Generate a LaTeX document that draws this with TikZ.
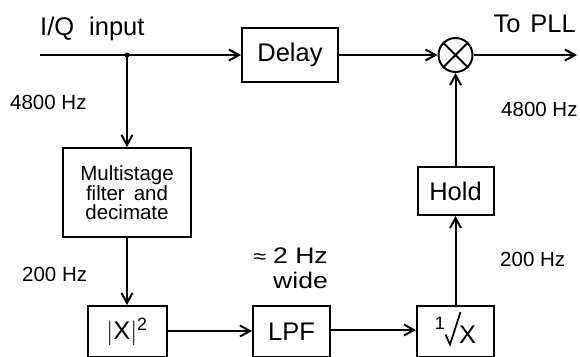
\documentclass[tikz,border=0pt]{standalone}
\usepackage{fontspec}
\setmainfont{Liberation Sans}
\newfontfamily\widefont[FakeStretch=1.18]{Liberation Sans}
\usetikzlibrary{arrows.meta}
\begin{document}
\begin{tikzpicture}[x=1pt,y=-1pt,
  box/.style={draw, line width=2pt, inner sep=0pt, font=\fontsize{25.5}{30}\selectfont},
  lbl/.style={inner sep=0pt, font=\fontsize{20.5}{20.5}\selectfont},
  big/.style={inner sep=0pt, font=\fontsize{25.5}{30}\selectfont},
  conn/.style={line width=2pt, -{Straight Barb[length=10pt,width=11pt,line width=2pt]}},
  wire/.style={line width=2pt}]
\useasboundingbox (0,0) rectangle (580,356);
% boxes
\node[box, minimum width=96pt, minimum height=54pt] (delay) at (290,55) {Delay};
\node[draw, line width=2pt, circle, minimum size=34pt, inner sep=0pt] (mix) at (455.5,55) {};
\draw[line width=2pt] (mix.north west) -- (mix.south east) (mix.north east) -- (mix.south west);
\node[box, minimum width=128pt, minimum height=89pt, align=center,
      font=\fontsize{20.5}{19}\selectfont] (multi) at (127,192.5) {Multistage\\filter\hspace{9pt}and\\decimate};
\node[box, minimum width=79pt, minimum height=51pt] (sq) at (127,331.5) {$|$X$|^{\mathrm{2}}$};
\node[box, minimum width=77pt, minimum height=51pt] (lpf) at (291.5,331.5) {LPF};
\node[box, minimum width=77pt, minimum height=51pt, text height=24pt, text depth=0pt] (rec) at (455.5,331.5)
  {\raisebox{14pt}{\fontsize{18}{18}\selectfont 1}\hspace{14pt}X};
\draw[line width=1.7pt, line join=miter, shift={(rec.center)}] (-10,3) -- (-5.5,13) -- (5,-19.5);
\node[box, minimum width=76pt, minimum height=48pt] (hold) at (455.5,191) {Hold};
% coordinates
\coordinate (in) at (40,55);
\coordinate (jn) at (127,55);
\coordinate (out) at (577,55);
% connectors
\draw[wire] (in) -- (jn);
\draw[conn] (jn) -- (delay.west);
\fill (jn) circle (2.5pt);
\draw[conn] (jn) -- (multi.north);
\draw[conn] (delay.east) -- (mix.west);
\draw[conn] (mix.east) -- (out);
\draw[conn] (multi.south) -- (sq.north);
\draw[conn] (sq.east |- 0,331) -- (lpf.west |- 0,331);
\draw[conn] (lpf.east |- 0,330) -- (rec.west |- 0,330);
\draw[conn] (rec.north) -- (hold.south);
\draw[conn] (hold.north) -- (mix.south);
% labels
\node[big, anchor=base west] (iq) at (40,35) {I/Q\hspace{15pt}input};
\node[big, anchor=base east] (pll) at (576,32) {To\hspace{10pt}PLL};
\node[lbl, anchor=base west] (f1) at (10,109) {4800 Hz};
\node[lbl, anchor=base west] (f2) at (501,116) {4800 Hz};
\node[lbl, anchor=base west] (f3) at (22,281) {200 Hz};
\node[lbl, anchor=base west] (f4) at (500,266) {200 Hz};
\node[inner sep=0pt, anchor=base east, font=\widefont\fontsize{22.5}{22}\selectfont] (bw1) at (328,263) {{\fontsize{20}{20}\selectfont ≈}\hspace{7pt}2 Hz};
\node[inner sep=0pt, anchor=base east, font=\widefont\fontsize{22.5}{22}\selectfont] (bw2) at (328,288) {wide};
\end{tikzpicture}
\end{document}
